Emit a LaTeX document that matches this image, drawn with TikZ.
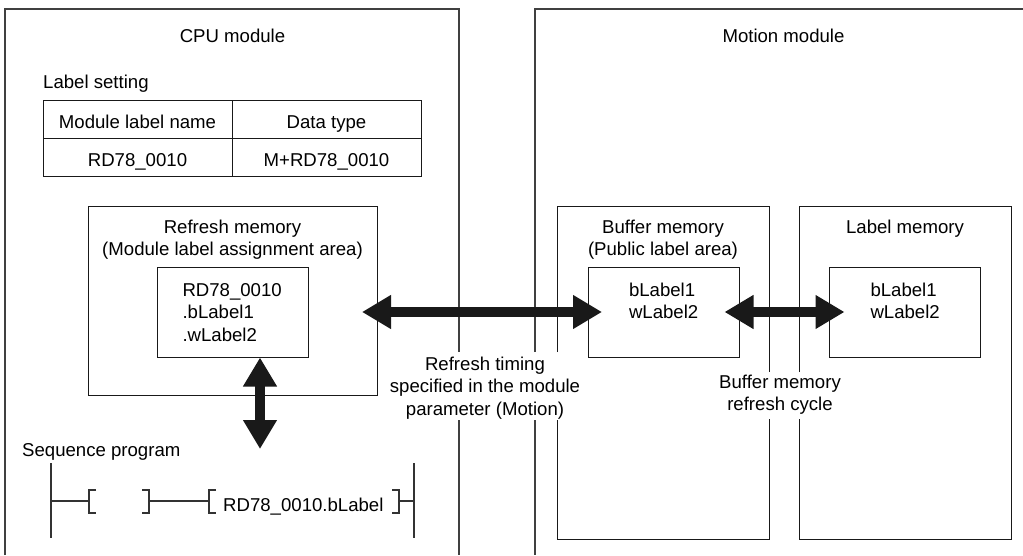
\documentclass[tikz,border=0pt]{standalone}
\usepackage{fontspec}
\setmainfont{Liberation Sans}
\usetikzlibrary{arrows.meta, positioning, calc}

\begin{document}
\begin{tikzpicture}[
    x=1pt, y=-1pt,
    font=\fontsize{18.6}{22.5}\selectfont,
    title/.style={inner sep=0pt, align=center},
    frame/.style={draw=black!75, line width=1.4pt},
    area/.style={draw=black!90, line width=1pt},
    cell/.style={rectangle, draw=black!90, line width=1pt, minimum width=189pt, minimum height=38pt, inner sep=0pt, outer sep=0pt, text height=18.7pt, text depth=0pt},
    membox/.style={rectangle, draw=black!90, line width=1pt, minimum width=151pt, minimum height=90pt, align=left, text depth=45pt, inner sep=0pt},
    bigarrow/.style={{Triangle[length=29pt,width=32pt]}-{Triangle[length=29pt,width=32pt]}, line width=10pt, draw=black!90},
    rung/.style={draw=black!80, line width=1.1pt}
]
\useasboundingbox (0,0) rectangle (1023,555);

% Module frames (open at the bottom, broken where the texts sit)
\draw [frame] (5,555) -- (5,9) -- (459,9) -- (459,352);
\draw [frame] (459,420) -- (459,555);
\draw [frame] (535,352) -- (535,9) -- (1023,9);
\draw [frame] (535,420) -- (535,555);
\node [title, anchor=base] (cpu) at (232.5,42) {CPU module};
\node [title, anchor=base] (motion) at (783.5,42) {Motion module};

% Label setting table
\node [title, anchor=base west] (labelset) at (43,88) {Label setting};
\node [cell] (hdname) at (137.5,119) {Module label name};
\node [cell, right=0pt of hdname] (hdtype) {Data type};
\node [cell, below=0pt of hdname] (valname) {RD78\_0010};
\node [cell, below=0pt of hdtype] (valtype) {M+RD78\_0010};

% Refresh memory
\node [area, minimum width=289pt, minimum height=189pt, outer sep=0pt] (refresh) at (232.5,300.5) {};
\node [title, anchor=north] (reftitle) at (232.5,219.5) {Refresh memory\\(Module label assignment area)};
\node [membox, text width=100pt] (refinner) at (232.5,312) {RD78\_0010\\.bLabel1\\.wLabel2};

% Buffer memory and label memory
\draw [area] (557,352) -- (557,206) -- (769,206) -- (769,372);
\draw [area] (769,419) -- (769,539) -- (557,539) -- (557,420);
\draw [area] (799,372) -- (799,206) -- (1011,206) -- (1011,539) -- (799,539) -- (799,419);
\node [title, anchor=north] (buftitle) at (663,219.5) {Buffer memory\\(Public label area)};
\node [title, anchor=base] (lbltitle) at (905,233) {Label memory};
\node [membox, text width=69pt] (bufinner) at (663.5,312) {bLabel1\\wLabel2};
\node [membox, text width=69pt] (lblinner) at (905,312) {bLabel1\\wLabel2};

% Refresh paths
\coordinate (seqtip) at (260,449);
\draw [bigarrow, shorten <=-15pt, shorten >=-14.5pt] (refinner.east -| refresh.east) -- (bufinner.west);
\draw [bigarrow, shorten <=-15pt, shorten >=-15.5pt] (bufinner.east) -- (lblinner.west);
\draw [bigarrow] (refinner.south -| seqtip) -- (seqtip);
\node [title, anchor=north] (timing) at (485,356.5) {Refresh timing\\specified in the module\\parameter (Motion)};
\node [title, anchor=north] (cycle) at (780,374.5) {Buffer memory\\refresh cycle};

% Sequence program
\node [title, anchor=base west] (seqprog) at (22,456) {Sequence program};
\coordinate (lrail) at (51,501);
\coordinate (rrail) at (414,501);
\coordinate (conL) at (89,501);
\coordinate (conR) at (149,501);
\coordinate (coilL) at (209,501);
\coordinate (coilR) at (399,501);
\node [title, anchor=base west] (coil) at (223,511) {RD78\_0010.bLabel};
\draw [rung] (51,463) -- (51,538);
\draw [rung] (414,463) -- (414,538);
\draw [rung] (lrail) -- (conL);
\draw [rung] ($(conL)+(7,-11)$) -- ++(-7,0) -- ++(0,23) -- ++(7,0);
\draw [rung] ($(conR)+(-7,-11)$) -- ++(7,0) -- ++(0,23) -- ++(-7,0);
\draw [rung] (conR) -- (coilL);
\draw [rung] ($(coilL)+(7,-11)$) -- ++(-7,0) -- ++(0,23) -- ++(7,0);
\draw [rung] ($(coilR)+(-7,-11)$) -- ++(7,0) -- ++(0,23) -- ++(-7,0);
\draw [rung] (coilR) -- (rrail);

\end{tikzpicture}
\end{document}
